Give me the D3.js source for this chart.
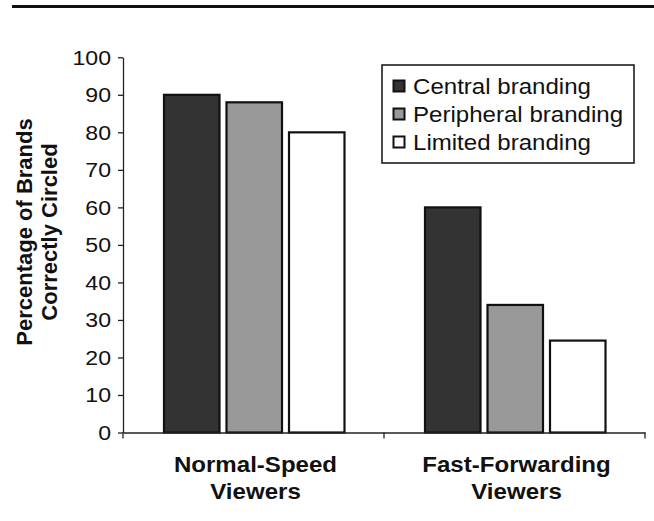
<!DOCTYPE html>
<html>
<head>
<meta charset="utf-8">
<script src="https://cdn.jsdelivr.net/npm/d3@7"></script>
<style>
  html, body { margin: 0; padding: 0; background: #fff; }
  svg { display: block; font-family: "Liberation Sans", Arial, sans-serif; }
</style>
</head>
<body>
<svg id="chart" width="654" height="521"></svg>
<script>
// ---- data ----
const categories = ["Normal-Speed Viewers", "Fast-Forwarding Viewers"];
const categoryLines = [["Normal-Speed", "Viewers"], ["Fast-Forwarding", "Viewers"]];
const seriesNames = ["Central branding", "Peripheral branding", "Limited branding"];
const centralBranding = [90, 60];
const peripheralBranding = [88, 34];
const limitedBranding = [80, 24.5];
const yTicks = [0, 10, 20, 30, 40, 50, 60, 70, 80, 90, 100];
const yTitleLines = ["Percentage of Brands", "Correctly Circled"];

const seriesValues = [centralBranding, peripheralBranding, limitedBranding];
const fills = ["#333333", "#999999", "#ffffff"];

const svg = d3.select("#chart");

// top rule
svg.append("rect").attr("x", 12).attr("y", 5).attr("width", 642).attr("height", 3).attr("fill", "#111");

const x0 = d3.scaleBand().domain(categories).range([123, 645]).padding(0);
const x1 = d3.scaleBand().domain(seriesNames).range([40, 222.5]).paddingInner(0.08).paddingOuter(0);
const y = d3.scaleLinear().domain([0, 100]).range([432.5, 57.3]);

// bars
const groups = svg.append("g").selectAll("g").data(categories).join("g")
  .attr("transform", d => `translate(${x0(d)},0)`);
groups.selectAll("rect")
  .data((c, ci) => seriesNames.map((s, si) => ({ s, si, v: seriesValues[si][ci] })))
  .join("rect")
  .attr("x", d => x1(d.s) + 1)
  .attr("width", x1.bandwidth() - 2)
  .attr("y", d => y(d.v))
  .attr("height", d => y(0) - y(d.v))
  .attr("fill", d => fills[d.si])
  .attr("stroke", "#111")
  .attr("stroke-width", 2.2);

// y axis
const yAxis = svg.append("g").attr("transform", "translate(123,0)")
  .call(d3.axisLeft(y).tickValues(yTicks).tickSize(5).tickPadding(7).tickSizeOuter(0));
yAxis.select(".domain").attr("stroke", "#222").attr("stroke-width", 1.3);
yAxis.selectAll(".tick line").attr("stroke", "#222").attr("stroke-width", 1.3);
yAxis.selectAll(".tick text").each(function () {
  const t = d3.select(this);
  const xx = +t.attr("x");
  t.attr("x", 0).attr("transform", `translate(${xx},0) scale(1.1,1)`);
}).attr("font-size", 21).attr("fill", "#111").attr("font-family", "Liberation Sans, Arial, sans-serif").attr("dy", "0.33em");

// x axis
const xAxis = svg.append("g").attr("transform", `translate(0,${y(0)})`)
  .call(d3.axisBottom(x0).tickValues([]).tickSizeOuter(0));
xAxis.select(".domain").attr("stroke", "#222").attr("stroke-width", 1.3);
const xTickPos = [x0.range()[0]].concat(categories.map(c => x0(c) + x0.bandwidth()));
xAxis.selectAll("line.xt").data(xTickPos).join("line").attr("class", "xt")
  .attr("x1", d => d).attr("x2", d => d).attr("y1", 0).attr("y2", 6)
  .attr("stroke", "#222").attr("stroke-width", 1.3);

// category labels
categories.forEach((c, ci) => {
  categoryLines[ci].forEach((line, li) => {
    svg.append("text")
      .attr("transform", `translate(${x0(c) + x0.bandwidth() / 2 + 2},${471.5 + li * 27}) scale(1.12,1)`)
      .attr("text-anchor", "middle")
      .attr("font-size", 21.5).attr("font-weight", "bold").attr("fill", "#111")
      .text(line);
  });
});

// y title
yTitleLines.forEach((line, li) => {
  svg.append("text")
    .attr("transform", `translate(${32 + li * 25},232) rotate(-90)`)
    .attr("text-anchor", "middle")
    .attr("font-size", 22).attr("font-weight", "bold").attr("fill", "#111")
    .text(line);
});

// legend
const lg = svg.append("g");
lg.append("rect").attr("x", 382).attr("y", 65).attr("width", 252).attr("height", 98)
  .attr("fill", "#fff").attr("stroke", "#111").attr("stroke-width", 1.5);
seriesNames.forEach((s, i) => {
  const cy = 86 + i * 28;
  lg.append("rect").attr("x", 393.5).attr("y", cy - 5.5).attr("width", 11).attr("height", 11)
    .attr("fill", fills[i]).attr("stroke", "#111").attr("stroke-width", 2);
  lg.append("text")
    .attr("transform", `translate(413,${cy + 7.5}) scale(1.12,1)`)
    .attr("font-size", 21.5).attr("fill", "#111")
    .text(s);
});
</script>
</body>
</html>
